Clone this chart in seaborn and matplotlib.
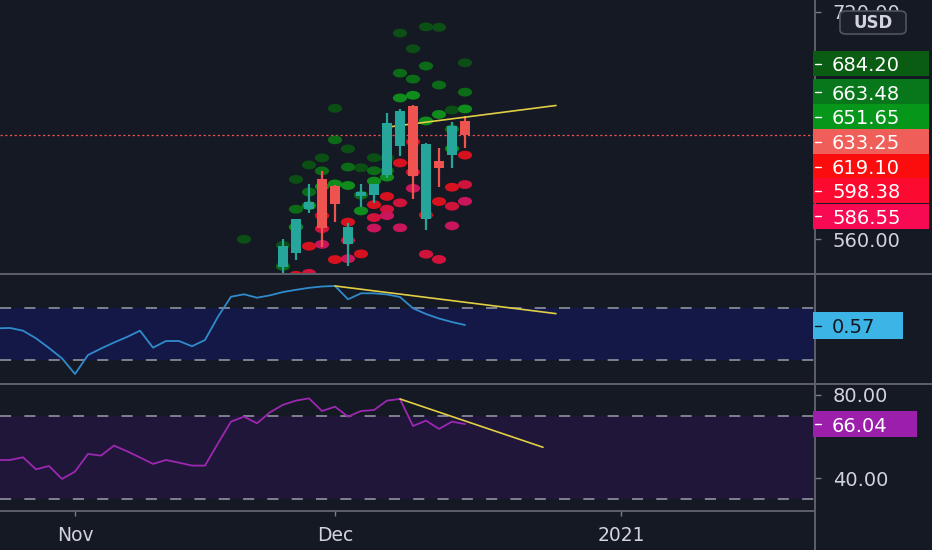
import numpy as np
import pandas as pd
import matplotlib
matplotlib.use("Agg")
import matplotlib.pyplot as plt
from matplotlib.path import Path
from matplotlib.patches import Rectangle, FancyBboxPatch
from matplotlib.lines import Line2D
from matplotlib.ticker import FuncFormatter
import seaborn as sns

# ---------------- data ----------------
holidays = ["2020-11-26", "2020-12-25", "2021-01-01"]
session_days = pd.bdate_range("2020-10-23", "2021-01-08", freq="C", holidays=holidays)
history_days = session_days[:37]          # Oct 23 .. Dec 15 2020

candle_dates = ["2020-11-24", "2020-11-25", "2020-11-27", "2020-11-30", "2020-12-01",
                "2020-12-02", "2020-12-03", "2020-12-04", "2020-12-07", "2020-12-08",
                "2020-12-09", "2020-12-10", "2020-12-11", "2020-12-14", "2020-12-15"]
candle_open = [540.4, 550.1, 581.2, 602.2, 597.6, 556.4, 590.0, 591.0, 604.9, 625.5,
               653.7, 574.4, 615.0, 619.0, 643.3]
candle_high = [559.9, 574.0, 598.8, 607.8, 597.9, 571.5, 599.0, 599.0, 648.8, 651.3,
               654.3, 627.8, 624.0, 642.8, 646.9]
candle_low = [526.2, 545.4, 578.5, 554.5, 572.1, 541.2, 582.4, 585.5, 603.1, 618.5,
              588.0, 566.3, 596.8, 610.2, 623.8]
candle_close = [555.4, 574.0, 585.8, 567.6, 584.8, 568.8, 593.4, 599.0, 641.8, 649.9,
                604.5, 627.1, 610.0, 639.8, 633.25]

pivot_dates = ["2020-11-19", "2020-11-20", "2020-11-23", "2020-11-24", "2020-11-25",
               "2020-11-27", "2020-11-30", "2020-12-01", "2020-12-02", "2020-12-03",
               "2020-12-04", "2020-12-07", "2020-12-08", "2020-12-09", "2020-12-10",
               "2020-12-11", "2020-12-14", "2020-12-15"]
nan = np.nan
pivot_r3 = [559.8, nan, nan, 555.5, 602.0, 612.2, 617.2, 652.1, 623.5, 610.2, 617.3, 617.1,
            705.1, 694.1, 709.5, 709.2, 650.9, 684.20]
pivot_r2 = [nan, nan, nan, 540.8, 581.0, 593.1, 608.0, 629.9, 610.7, 590.9, 608.1, 608.1,
            676.9, 672.7, 681.9, 668.5, 637.5, 663.48]
pivot_r1 = [nan, nan, nan, nan, 568.4, 583.5, 596.9, 598.8, 597.7, 579.8, 600.8, 603.6,
            659.4, 661.3, 643.2, 647.8, 623.7, 651.65]
pivot_s1 = [nan, nan, nan, nan, 534.4, 554.9, 576.5, 545.5, 571.9, 549.5, 584.2, 590.0,
            613.6, 628.5, 576.9, 586.4, 596.5, 619.10]
pivot_s2 = [nan, nan, nan, nan, nan, 535.8, 567.3, nan, 559.1, nan, 575.1, 581.0,
            585.5, 607.1, 549.3, 545.6, 583.1, 598.38]
pivot_s3 = [nan, nan, nan, nan, nan, nan, 556.2, nan, 546.1, nan, 567.7, 576.5,
            567.9, 595.7, nan, nan, 569.3, 586.55]

osc_values = [0.532, 0.536, 0.505, 0.418, 0.307, 0.189, 0.010, 0.227, 0.301, 0.370,
              0.433, 0.505, 0.311, 0.387, 0.387, 0.327, 0.399, 0.665, 0.893, 0.921,
              0.882, 0.909, 0.947, 0.972, 0.995, 1.010, 1.016, 0.864, 0.932, 0.932,
              0.919, 0.890, 0.761, 0.696, 0.644, 0.604, 0.570]
osc_band = [0.17, 0.77]

rsi_values = [48.8, 48.8, 50.1, 44.3, 45.9, 39.7, 43.2, 51.7, 50.9, 55.7,
              53.0, 50.0, 46.9, 48.8, 47.5, 46.1, 46.1, 56.8, 67.2, 69.6,
              66.4, 71.7, 75.3, 77.3, 78.4, 72.3, 74.4, 69.6, 72.3, 72.8,
              77.3, 78.1, 65.1, 67.7, 63.7, 67.2, 66.04]
rsi_band = [30, 70]

price_trend_dates = ["2020-12-07", "2020-12-24"]
price_trend_values = [638.8, 654.1]
osc_trend_dates = ["2020-12-01", "2020-12-24"]
osc_trend_values = [1.016, 0.70]
rsi_trend_dates = ["2020-12-08", "2020-12-23"]
rsi_trend_values = [78.1, 54.9]

price_ticks = [560, 720]
rsi_ticks = [40, 80]
month_tick_dates = ["2020-11-02", "2020-12-01", "2021-01-04"]
month_tick_labels = ["Nov", "Dec", "2021"]

# ---------------- style ----------------
W, H = 932, 550
BG = "#151924"
SEP = "#5d606b"
TXT = "#d1d4dc"
UP, DN = "#26a69a", "#ef5350"
YEL = "#e0cf45"
DOT_COLORS = {"R3": "#0b4f14", "R2": "#0b6b17", "R1": "#0f8c1c",
              "S1": "#d5121e", "S2": "#d0133a", "S3": "#c9165a"}
FS = 14

sns.set_style("dark", {"axes.facecolor": BG, "figure.facecolor": BG, "axes.grid": False})
plt.rcParams["font.family"] = ["DejaVu Sans"]
plt.rcParams["lines.scale_dashes"] = False

pos_of = {d: i for i, d in enumerate(session_days)}
def P(dates):
    return [pos_of[pd.Timestamp(d)] for d in dates]

hist_pos = np.arange(len(history_days))

fig = plt.figure(figsize=(W / 100, H / 100), dpi=100, facecolor=BG)
def rect(x0, y0, x1, y1):
    return [x0 / W, 1 - y1 / H, (x1 - x0) / W, (y1 - y0) / H]

ax1 = fig.add_axes(rect(0, 0, 815, 273))
ax2 = fig.add_axes(rect(0, 274, 815, 384))
ax3 = fig.add_axes(rect(0, 384, 815, 511))
XLIM = (26 - 335 / 13, 26 + 480 / 13)
for ax in (ax1, ax2, ax3):
    ax.set_facecolor(BG)
    for s in ax.spines.values():
        s.set_visible(False)
    ax.grid(False)

# ---- price pane ----
piv = pd.DataFrame({"pos": P(pivot_dates), "R3": pivot_r3, "R2": pivot_r2, "R1": pivot_r1,
                    "S1": pivot_s1, "S2": pivot_s2, "S3": pivot_s3})
piv = piv.melt(id_vars="pos", var_name="level", value_name="price").dropna()
circ = Path.unit_circle()
ELLIPSE = Path(circ.vertices * np.array([1.0, 0.62]), circ.codes)
sns.scatterplot(data=piv, x="pos", y="price", hue="level", palette=DOT_COLORS,
                marker=ELLIPSE, s=105, edgecolor="none", linewidth=0, legend=False,
                ax=ax1, zorder=2)

cpos = np.array(P(candle_dates))
o, h, l, c = map(np.array, (candle_open, candle_high, candle_low, candle_close))
ccol = np.where(c >= o, UP, DN)
ax1.vlines(cpos, l, h, colors=ccol, lw=1.6, zorder=3)
ax1.bar(cpos, np.maximum(np.abs(c - o), 0.6), bottom=np.minimum(o, c), width=0.83,
        color=ccol, linewidth=0, zorder=4)
ax1.axhline(candle_close[-1], color=DN, lw=0.9, dashes=(1.6, 1.8), zorder=1)
sns.lineplot(x=P(price_trend_dates), y=price_trend_values, color=YEL, lw=1.2, ax=ax1,
             zorder=3.5)
ax1.set_xlim(XLIM)
ax1.set_ylim(560 - 34 / 1.419, 560 + 239 / 1.419)
ax1.set(xlabel="", ylabel="")
ax1.set_xticks([])
ax1.yaxis.tick_right()
ax1.set_yticks(price_ticks)
ax1.yaxis.set_major_formatter(FuncFormatter(lambda v, _: f"{v:.2f}"))

# ---- oscillator pane ----
ax2.axhspan(osc_band[0], osc_band[1], color="#141847", lw=0, zorder=0)
for lv in osc_band:
    ax2.axhline(lv, color="#9a9da8", lw=1.1, dashes=(8, 9.5), zorder=1)
sns.lineplot(x=hist_pos, y=osc_values, color="#2f8bcb", lw=1.3, ax=ax2, zorder=3)
sns.lineplot(x=P(osc_trend_dates), y=osc_trend_values, color=YEL, lw=1.2, ax=ax2, zorder=4)
ax2.set_xlim(XLIM)
ax2.set_ylim(0.57 - 59 / 87.5, 0.57 + 51 / 87.5)
ax2.set(xlabel="", ylabel="")
ax2.set_xticks([])
ax2.set_yticks([])

# ---- RSI pane ----
ax3.axhspan(rsi_band[0], rsi_band[1], color="#201639", lw=0, zorder=0)
for lv in rsi_band:
    ax3.axhline(lv, color="#9a9da8", lw=1.1, dashes=(8, 9.5), zorder=1)
sns.lineplot(x=hist_pos, y=rsi_values, color="#9c27b0", lw=1.3, ax=ax3, zorder=3)
sns.lineplot(x=P(rsi_trend_dates), y=rsi_trend_values, color=YEL, lw=1.2, ax=ax3, zorder=4)
ax3.set_xlim(XLIM)
ax3.set_ylim(40 - 32.7 / 2.0825, 80 + 11 / 2.0825)
ax3.set(xlabel="", ylabel="")
ax3.yaxis.tick_right()
ax3.set_yticks(rsi_ticks)
ax3.yaxis.set_major_formatter(FuncFormatter(lambda v, _: f"{v:.2f}"))
ax3.set_xticks(P(month_tick_dates))
ax3.set_xticklabels(month_tick_labels)

for ax in (ax1, ax3):
    ax.tick_params(axis="y", right=True, left=False, labelright=True, labelleft=False,
                   length=4.3, width=1, color="#787b86", pad=8.5, labelsize=FS,
                   labelcolor=TXT)
ax3.tick_params(axis="x", bottom=True, length=3.6, width=1, color="#787b86", pad=7,
                labelsize=13.5, labelcolor=TXT)

# ---------------- overlays (separators, labels) ----------------
def fx(x):
    return x / W
def fy(y):
    return 1 - y / H

for (x0, x1, y) in [(0, 932, 273.5), (0, 932, 384), (0, 815, 511)]:
    fig.add_artist(Line2D([fx(x0), fx(x1)], [fy(y), fy(y)], transform=fig.transFigure,
                          color=SEP, lw=1.4, zorder=3))
fig.add_artist(Line2D([fx(815), fx(815)], [0, 1], transform=fig.transFigure,
                      color=SEP, lw=1.4, zorder=3))

def value_box(yc, x1, fc, text, tc, h=25.5):
    fig.add_artist(Rectangle((fx(813), fy(yc + h / 2)), fx(x1) - fx(813), h / H,
                             transform=fig.transFigure, fc=fc, ec="none", zorder=5))
    fig.add_artist(Line2D([fx(815), fx(821)], [fy(yc), fy(yc)], transform=fig.transFigure,
                          color=tc, lw=1, zorder=6))
    fig.text(fx(832), fy(yc), text, ha="left", va="center_baseline", fontsize=FS,
             color=tc, zorder=6)

price_labels = [
    (63.5, "#0a5c12", pivot_r3[-1]),
    (92.0, "#08761a", pivot_r2[-1]),
    (116.5, "#05961a", pivot_r1[-1]),
    (141.5, "#ef5e58", candle_close[-1]),
    (166.5, "#fb0d0d", pivot_s1[-1]),
    (190.5, "#fc0a30", pivot_s2[-1]),
    (216.5, "#f80a52", pivot_s3[-1]),
]
for yc, fc, v in price_labels:
    value_box(yc, 929, fc, f"{v:.2f}", "#ffffff")
value_box(325.5, 903, "#3db4e6", f"{osc_values[-1]:.2f}", "#131722", h=27)
value_box(424, 917, "#9c1fab", f"{rsi_values[-1]:.2f}", "#ffffff", h=26)

fig.add_artist(FancyBboxPatch((fx(840), fy(34)), fx(906) - fx(840), 23 / H,
                              boxstyle="round,pad=0,rounding_size=0.007",
                              transform=fig.transFigure, fc="#1c202b", ec="#50545f",
                              lw=1.2, zorder=5))
fig.text(fx(873), fy(22.5), "USD", ha="center", va="center", fontsize=12,
         fontweight="bold", color=TXT, zorder=6)

fig.savefig("out.png", dpi=100, facecolor=BG)
